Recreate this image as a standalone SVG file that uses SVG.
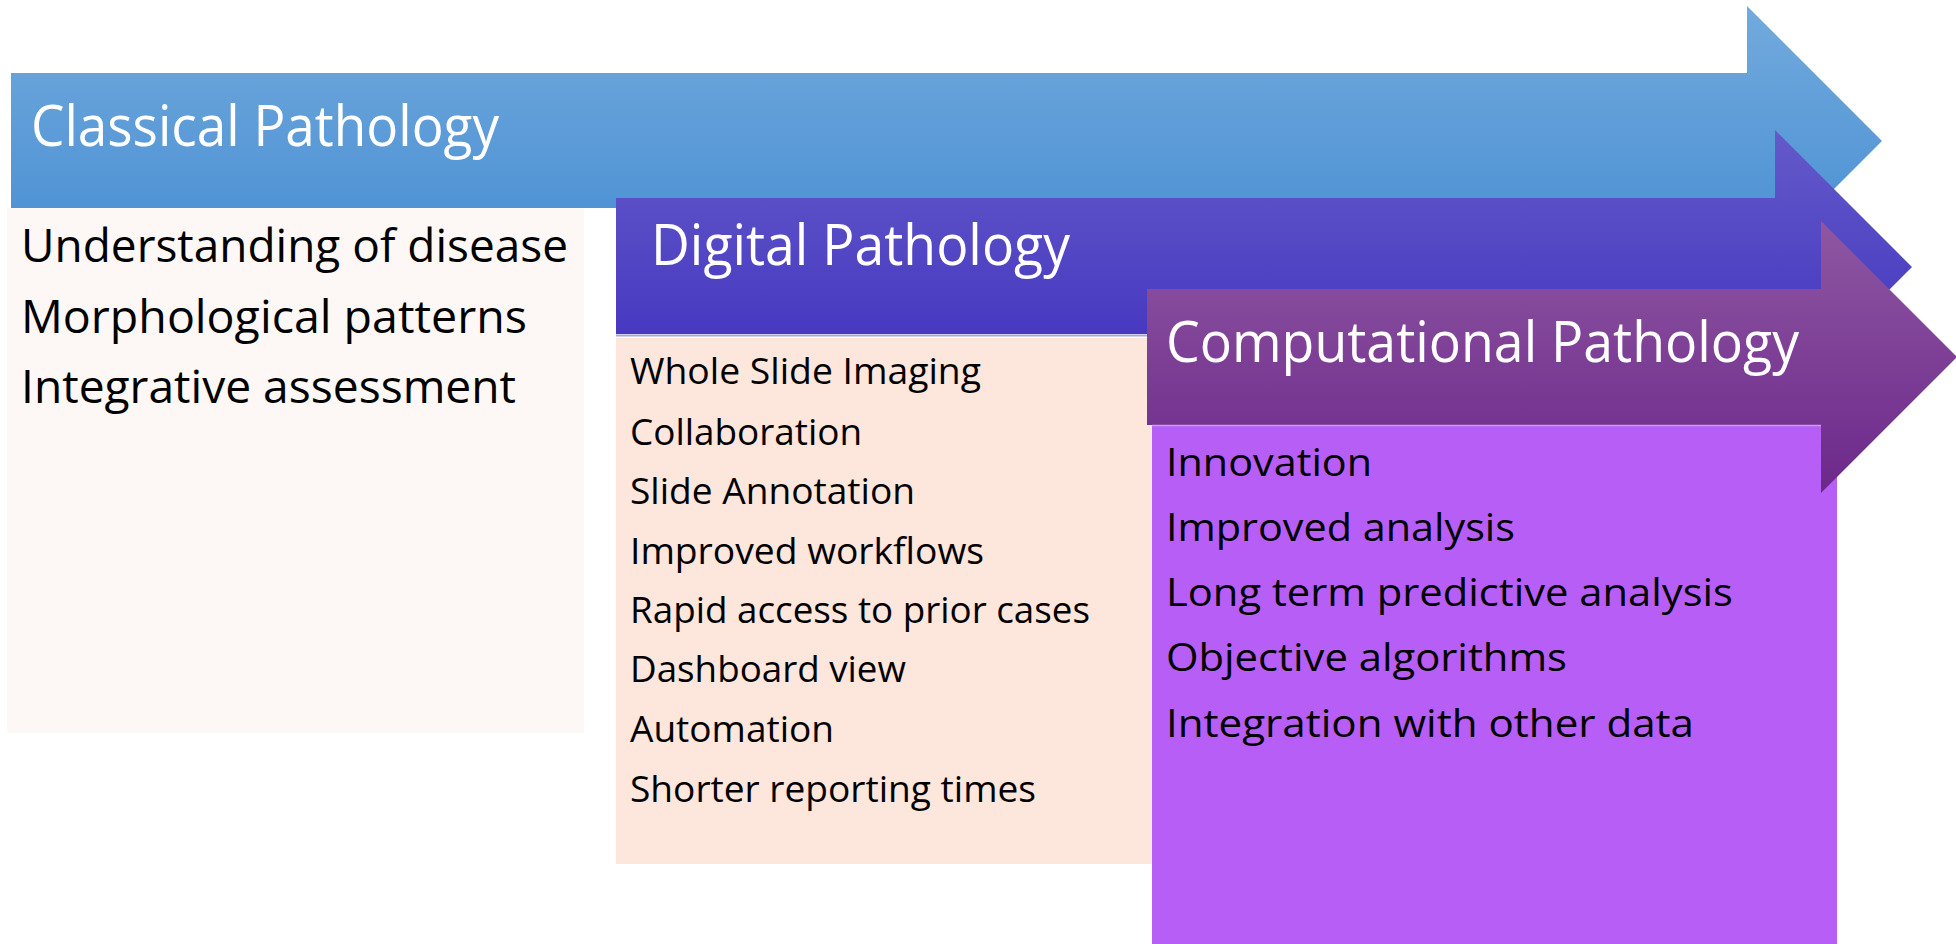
<svg xmlns="http://www.w3.org/2000/svg" width="1956" height="944" viewBox="0 0 1956 944">
  <defs>
    <linearGradient id="gradBlue" x1="0" y1="0" x2="0" y2="1">
      <stop offset="0" stop-color="#72aadd"/>
      <stop offset="1" stop-color="#458cd2"/>
    </linearGradient>
    <linearGradient id="gradIndigo" x1="0" y1="0" x2="0" y2="1">
      <stop offset="0" stop-color="#645ac9"/>
      <stop offset="1" stop-color="#3d2ebe"/>
    </linearGradient>
    <linearGradient id="gradPurple" x1="0" y1="0" x2="0" y2="1">
      <stop offset="0" stop-color="#8e57a2"/>
      <stop offset="1" stop-color="#6c288a"/>
    </linearGradient>
    <style>
      .title { font-family: "Open Sans", "Liberation Sans", sans-serif; font-size: 56px; fill: #ffffff; }
      .item-l { font-family: "Open Sans", "Liberation Sans", sans-serif; font-size: 45px; fill: #000000; }
      .item-m { font-family: "Open Sans", "Liberation Sans", sans-serif; font-size: 38px; fill: #000000; }
      .item-s { font-family: "Open Sans", "Liberation Sans", sans-serif; font-size: 36px; fill: #000000; }
    </style>
  </defs>

  <rect width="1956" height="944" fill="#ffffff"/>

  <!-- Classical Pathology -->
  <g id="classical">
    <rect x="7" y="208" width="577" height="525" fill="#fdf8f5"/>
    <polygon points="11,73 1747,73 1747,6 1882,141 1747,276 1747,208 11,208" fill="url(#gradBlue)"/>
    <text class="title" x="31" y="146" textLength="468" lengthAdjust="spacingAndGlyphs">Classical Pathology</text>
    <text class="item-l" x="21" y="262" textLength="547" lengthAdjust="spacingAndGlyphs">Understanding of disease</text>
    <text class="item-l" x="21" y="333" textLength="506" lengthAdjust="spacingAndGlyphs">Morphological patterns</text>
    <text class="item-l" x="21" y="403" textLength="495" lengthAdjust="spacingAndGlyphs">Integrative assessment</text>
  </g>

  <!-- Digital Pathology -->
  <g id="digital">
    <rect x="616" y="338" width="540" height="526" fill="#fde6dc"/>
    <polygon points="616,198 1775,198 1775,130 1912,267 1775,404 1775,334 616,334" fill="url(#gradIndigo)"/>
    <line x1="616" y1="335.5" x2="1147" y2="335.5" stroke="#a9a1e6" stroke-width="2"/>
    <text class="title" x="651" y="265" textLength="419" lengthAdjust="spacingAndGlyphs">Digital Pathology</text>
    <text class="item-s" x="630" y="384" textLength="351" lengthAdjust="spacingAndGlyphs">Whole Slide Imaging</text>
    <text class="item-s" x="630" y="445" textLength="232" lengthAdjust="spacingAndGlyphs">Collaboration</text>
    <text class="item-s" x="630" y="504" textLength="285" lengthAdjust="spacingAndGlyphs">Slide Annotation</text>
    <text class="item-s" x="630" y="564" textLength="354" lengthAdjust="spacingAndGlyphs">Improved workflows</text>
    <text class="item-s" x="630" y="623" textLength="460" lengthAdjust="spacingAndGlyphs">Rapid access to prior cases</text>
    <text class="item-s" x="630" y="682" textLength="276" lengthAdjust="spacingAndGlyphs">Dashboard view</text>
    <text class="item-s" x="630" y="742" textLength="204" lengthAdjust="spacingAndGlyphs">Automation</text>
    <text class="item-s" x="630" y="802" textLength="406" lengthAdjust="spacingAndGlyphs">Shorter reporting times</text>
  </g>

  <!-- Computational Pathology -->
  <g id="computational">
    <rect x="1152" y="425" width="685" height="519" fill="#b75ef6"/>
    <polygon points="1147,289 1821,289 1821,221 1957,357 1821,493 1821,425 1147,425" fill="url(#gradPurple)"/>
    <line x1="1152" y1="425.5" x2="1821" y2="425.5" stroke="#c9a0e0" stroke-width="1.5"/>
    <text class="title" x="1166" y="362" textLength="633" lengthAdjust="spacingAndGlyphs">Computational Pathology</text>
    <text class="item-m" x="1166" y="476" textLength="206" lengthAdjust="spacingAndGlyphs">Innovation</text>
    <text class="item-m" x="1166" y="541" textLength="349" lengthAdjust="spacingAndGlyphs">Improved analysis</text>
    <text class="item-m" x="1166" y="606" textLength="567" lengthAdjust="spacingAndGlyphs">Long term predictive analysis</text>
    <text class="item-m" x="1166" y="671" textLength="401" lengthAdjust="spacingAndGlyphs">Objective algorithms</text>
    <text class="item-m" x="1166" y="737" textLength="528" lengthAdjust="spacingAndGlyphs">Integration with other data</text>
  </g>
</svg>
